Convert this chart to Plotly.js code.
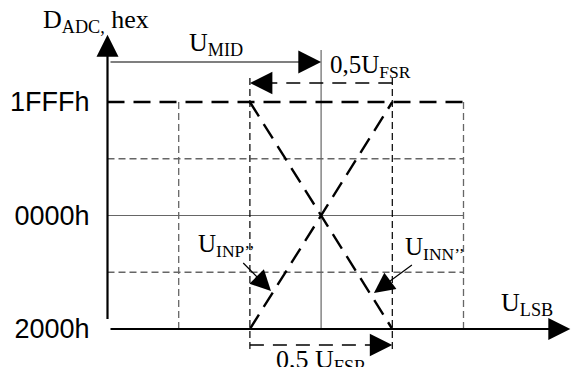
<!DOCTYPE html>
<html>
<head>
<meta charset="utf-8">
<script src="https://cdn.plot.ly/plotly-3.0.1.min.js"></script>
<style>
  html, body { margin: 0; padding: 0; background: #fff; }
</style>
</head>
<body>
<div id="graph"></div>
<script>
// x: grid steps of input voltage from the code axis, y: ADC output code
const codeTickVals = [8191, 0, -8192];
const codeTickText = ['1FFFh', '0000h', '2000h'];
const codeMax = 8191;
const codeMin = -8192;
const codeGrid = [4096, -4096];
const greyGridX = [1, 5];
const fsrX = [2, 4];      // span of 0.5 U_FSR around U_MID
const uMid = 3;
const uLast = 5;
// transfer characteristics
const inpX = [2, 4], inpY = [-8192, 8191];
const innX = [2, 4], innY = [8191, -8192];

// drawing levels (in axis units)
const yAxisTop = 13050;
const xAxisEnd = 6.5;
const midArrowY = 11080;
const fsrTopY = 9564;
const fsrBotY = -9347;
const fsrLineTop = 9925;
const fsrLineBottom = -9700;
const centerTop = 11945;

const SERIF = 'Liberation Serif, Times New Roman, serif';
const SANS = 'Liberation Sans, Arial, sans-serif';

function line(x, y, color, width, dash) {
    return {
        x: x, y: y, type: 'scatter', mode: 'lines',
        line: {color: color, width: width, dash: dash || 'solid'},
        hoverinfo: 'skip', showlegend: false, cliponaxis: false
    };
}

let traces = [];

// horizontal grid
codeGrid.forEach(c => {
    traces.push(line([0, uLast], [c, c], '#666', 1.3, '7px,4px'));
});
traces.push(line([0, uLast], [0, 0], '#666', 1.2));

// vertical grid
greyGridX.forEach(u => {
    traces.push(line([u, u], [codeMax, codeMin], '#666', 1.3, '7px,4px'));
});
fsrX.forEach(u => {
    traces.push(line([u, u], [fsrLineTop, fsrLineBottom], '#000', 1.2, '7px,4px'));
});
traces.push(line([uMid, uMid], [centerTop, codeMin], '#666', 1.2));

// full scale level
traces.push(line([0, uLast], [codeMax, codeMax], '#000', 2.6, '17px,9px'));

// transfer lines
traces.push(line(inpX, inpY, '#000', 2.4, '17px,9px'));
traces.push(line(innX, innY, '#000', 2.4, '17px,9px'));

// dashed dimension lines for 0.5 U_FSR
traces.push(line([fsrX[1], fsrX[0] + 0.2], [fsrTopY, fsrTopY], '#000', 1.5, '14px,9px'));
traces.push(line([fsrX[0], fsrX[1] - 0.2], [fsrBotY, fsrBotY], '#000', 1.5, '14px,9px'));

function arrow(x, y, ax, ay, w, s) {
    return {
        x: x, y: y, ax: ax, ay: ay, xref: 'x', yref: 'y', axref: 'x', ayref: 'y',
        text: ' ', showarrow: true, arrowhead: 2, arrowwidth: w, arrowsize: s,
        arrowcolor: '#000', standoff: 0, startstandoff: 0
    };
}

let annotations = [
    // axes
    arrow(0, yAxisTop, 0, codeMin, 2.2, 2.0),
    arrow(xAxisEnd, codeMin, 0, codeMin, 2.2, 2.0),
    // U_MID
    arrow(uMid, midArrowY, 0, midArrowY, 1.2, 3.8),
    // 0.5 U_FSR heads
    arrow(fsrX[0], fsrTopY, fsrX[0] + 0.35, fsrTopY, 1.5, 3.0),
    arrow(fsrX[1], fsrBotY, fsrX[1] - 0.35, fsrBotY, 1.5, 3.0),
    // labels
    {x: -0.93, y: 14050, xref: 'x', yref: 'y', xanchor: 'left', yanchor: 'middle',
     text: 'D<sub>ADC,</sub> hex', showarrow: false, font: {family: SERIF, size: 26, color: '#000'}},
    {x: 1.52, y: midArrowY, xref: 'x', yref: 'y', xanchor: 'center', yanchor: 'bottom', yshift: 0,
     text: 'U<sub>MID</sub>', showarrow: false, font: {family: SERIF, size: 26, color: '#000'}},
    {x: uMid, y: fsrTopY, xref: 'x', yref: 'y', xanchor: 'left', yanchor: 'bottom', xshift: 7, yshift: -1,
     text: '0,5U<sub>FSR</sub>', showarrow: false, font: {family: SERIF, size: 25, color: '#000'}},
    {x: 5.5, y: codeMin, xref: 'x', yref: 'y', xanchor: 'left', yanchor: 'bottom', yshift: 7,
     text: 'U<sub>LSB</sub>', showarrow: false, font: {family: SERIF, size: 26, color: '#000'}},
    {x: uMid, y: fsrBotY, xref: 'x', yref: 'y', xanchor: 'center', yanchor: 'top', yshift: 2,
     text: '0,5 U<sub>FSR</sub>', showarrow: false, font: {family: SERIF, size: 26, color: '#000'}},
    // pointers to the transfer lines
    {x: 2.296, y: -5450, ax: 1.67, ay: -2200, xref: 'x', yref: 'y', axref: 'x', ayref: 'y',
     text: 'U<sub>INP’’</sub>', showarrow: true, arrowhead: 2, arrowwidth: 1.2, arrowsize: 3.4,
     arrowcolor: '#000', standoff: 0, font: {family: SERIF, size: 25, color: '#000'}},
    {x: 3.742, y: -5594, ax: 4.6, ay: -2350, xref: 'x', yref: 'y', axref: 'x', ayref: 'y',
     text: 'U<sub>INN’’</sub>', showarrow: true, arrowhead: 2, arrowwidth: 1.2, arrowsize: 3.4,
     arrowcolor: '#000', standoff: 0, font: {family: SERIF, size: 25, color: '#000'}}
];

let layout = {
    width: 571,
    height: 367,
    margin: {l: 0, r: 0, t: 0, b: 0},
    paper_bgcolor: '#fff',
    plot_bgcolor: '#fff',
    showlegend: false,
    xaxis: {
        range: [-107.5 / 71.2, (571 - 107.5) / 71.2],
        showgrid: false, zeroline: false, showline: false,
        showticklabels: false, ticks: '', fixedrange: true
    },
    yaxis: {
        range: [-10935, 15554],
        anchor: 'free', position: 107.5 / 571,
        showgrid: false, zeroline: false, showline: false,
        tickvals: codeTickVals, ticktext: codeTickText,
        ticks: '', ticklabelstandoff: 18,
        tickfont: {family: SANS, size: 27, color: '#000'},
        fixedrange: true
    },
    annotations: annotations
};

Plotly.newPlot('graph', traces, layout, {displayModeBar: false, staticPlot: true});
</script>
</body>
</html>
